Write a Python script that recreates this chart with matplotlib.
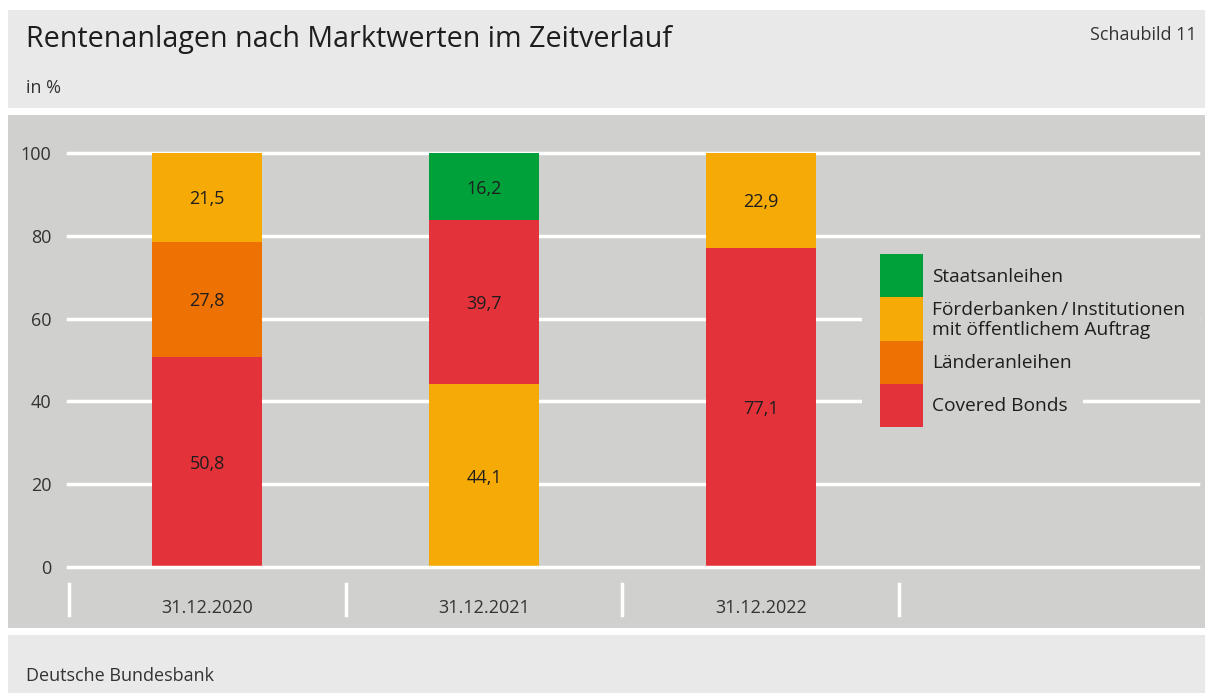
import matplotlib
matplotlib.use("Agg")
import matplotlib.pyplot as plt
from matplotlib.patches import Rectangle

plt.rcParams['font.family'] = ['Open Sans', 'DejaVu Sans']

# data
categories = ['31.12.2020', '31.12.2021', '31.12.2022']
covered = [50.8, 39.7, 77.1]
laender = [27.8, 0.0, 0.0]
foerder = [21.5, 44.1, 22.9]
staat = [0.0, 16.2, 0.0]
# stacking order (bottom to top) for each date
stack_order = [['covered', 'laender', 'foerder'],
               ['foerder', 'covered', 'staat'],
               ['covered', 'foerder']]

values = {'covered': covered, 'laender': laender, 'foerder': foerder, 'staat': staat}
colors = {'staat': '#00a13a', 'foerder': '#f5aa05', 'laender': '#ee7203', 'covered': '#e3323a'}
names = {'staat': 'Staatsanleihen',
         'foerder': 'Förderbanken\u2009/\u2009Institutionen\nmit öffentlichem Auftrag',
         'laender': 'Länderanleihen',
         'covered': 'Covered Bonds'}
legend_order = ['staat', 'foerder', 'laender', 'covered']

W, H = 1205, 693
fig = plt.figure(figsize=(W / 100, H / 100), dpi=100)
fig.patch.set_facecolor('white')

def fx(x):
    return x / W

def fy(y):
    return 1 - y / H

bg_light = '#e9e9e9'
bg_chart = '#d0d0ce'
txt = '#1e1e1e'
fs = 13

# panels
for y0, y1, c in [(10, 108, bg_light), (115, 628, bg_chart), (635, 693, bg_light)]:
    fig.patches.append(Rectangle((fx(8), fy(y1)), fx(1205 - 8), (y1 - y0) / H,
                                 transform=fig.transFigure, facecolor=c,
                                 edgecolor='none', zorder=-1))

fig.text(fx(26), fy(39), 'Rentenanlagen nach Marktwerten im Zeitverlauf', fontsize=20.6,
         color=txt, va='center', ha='left')
fig.text(fx(1197), fy(35), 'Schaubild 11', fontsize=fs, color='#333333', va='center', ha='right')
fig.text(fx(26), fy(88), 'in %', fontsize=fs, color='#333333', va='center', ha='left')
fig.text(fx(26), fy(676), 'Deutsche Bundesbank', fontsize=fs, color='#333333', va='center', ha='left')

# main axes
ax = fig.add_axes([fx(68), fy(567), fx(1198 - 68), (567 - 153) / H])
ax.set_zorder(1)
ax.set_facecolor('none')
for s in ax.spines.values():
    s.set_visible(False)
ax.set_xlim(-0.502, 3.578)
ax.set_ylim(0, 100)

for t in range(0, 101, 20):
    ax.axhline(t, color='white', lw=2.5, zorder=4 if t == 0 else 1, clip_on=False)
ax.set_yticks(range(0, 101, 20))
ax.tick_params(axis='y', length=0, pad=12, labelsize=fs, labelcolor='#333333')
ax.set_xticks([])

bar_w = 0.4
for i, order in enumerate(stack_order):
    bottom = 0
    for key in order:
        v = values[key][i]
        ax.bar(i, v, bottom=bottom, width=bar_w, color=colors[key], zorder=2)
        ax.text(i, bottom + v / 2 - 0.5, f'{v:.1f}'.replace('.', ','), ha='center', va='center',
                fontsize=fs, color=txt, zorder=3)
        bottom += v

# category separators and labels
for k in range(len(categories) + 1):
    ax.plot([k - 0.5, k - 0.5], [-4, -11.5], color='white', lw=2.5, clip_on=False, zorder=1)
for i, c in enumerate(categories):
    ax.text(i, -10, c, ha='center', va='center', fontsize=fs, color='#333333')

# legend (masks the gridlines behind it)
fig.patches.append(Rectangle((fx(862), fy(427)), fx(70), 173 / H, transform=fig.transFigure,
                             facecolor=bg_chart, edgecolor='none', zorder=2))
top = 254
ys = {'staat': 277, 'foerder': 320, 'laender': 363, 'covered': 406}
for j, key in enumerate(legend_order):
    fig.patches.append(Rectangle((fx(880), fy(top + 43.3 * (j + 1))), fx(43), 43.3 / H,
                                 transform=fig.transFigure, facecolor=colors[key],
                                 edgecolor='none', zorder=4))
    fig.text(fx(932), fy(ys[key]), names[key], fontsize=13.8, color=txt, va='center', ha='left',
             linespacing=1.1, zorder=3,
             bbox=dict(facecolor=bg_chart, edgecolor='none', pad=11))

fig.savefig('out.png', dpi=100)
